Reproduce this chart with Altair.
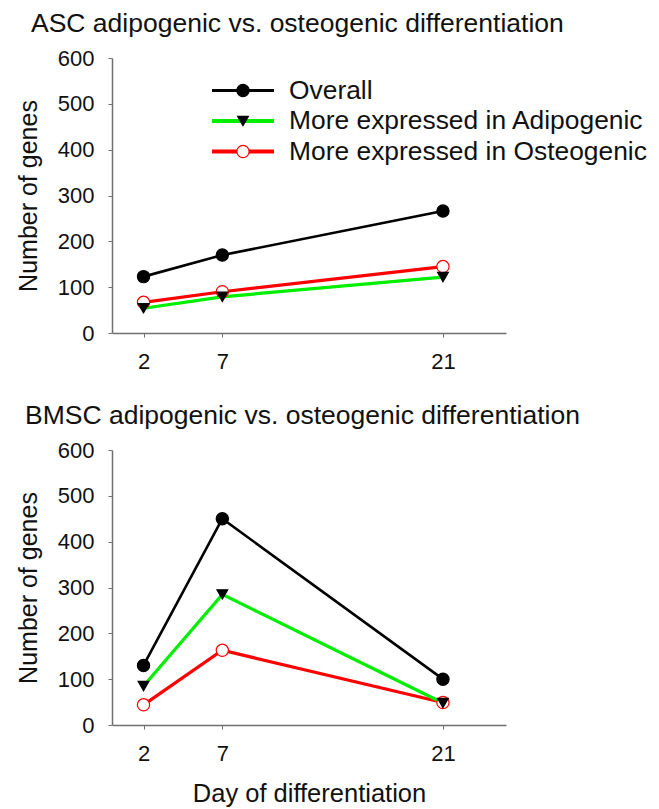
import altair as alt
import pandas as pd

days = [2, 7, 21]
series = ["Overall", "More expressed in Adipogenic", "More expressed in Osteogenic"]

asc_overall = [123, 170, 266]
asc_adipo = [54, 79, 122]
asc_osteo = [67, 90, 145]

bmsc_overall = [130, 450, 100]
bmsc_adipo = [85, 285, 48]
bmsc_osteo = [44, 163, 49]

titles = ["ASC adipogenic vs. osteogenic differentiation",
          "BMSC adipogenic vs. osteogenic differentiation"]
y_title = "Number of genes"
x_title = "Day of differentiation"
y_ticks = [0, 100, 200, 300, 400, 500, 600]

FONT = "Liberation Sans"

line_colors = {series[0]: "#000000", series[1]: "#00ee00", series[2]: "#ff0000"}
line_widths = {series[0]: 2.6, series[1]: 3.2, series[2]: 3.2}
pt_shape = {series[0]: "circle", series[1]: "triangle-down", series[2]: "circle"}
pt_fill = {series[0]: "#000000", series[1]: "#000000", series[2]: "#ffffff"}
pt_stroke = {series[0]: "#000000", series[1]: "#000000", series[2]: "#ff0000"}
pt_size = {series[0]: 150, series[1]: 115, series[2]: 150}


def make_df(vals):
    rows = []
    for s, v in zip(series, vals):
        for d, y in zip(days, v):
            rows.append({"series": s, "day": d, "value": y})
    return pd.DataFrame(rows)


draw_order = [series[0], series[2], series[1]]


def panel(df, title, title_dx, show_xtitle, with_legend):
    x = alt.X("day:Q", scale=alt.Scale(domain=[0, 25], nice=False),
              axis=alt.Axis(values=days, title=x_title if show_xtitle else None,
                            titlePadding=17, labelPadding=14, titleFontSize=25.5))
    y = alt.Y("value:Q", scale=alt.Scale(domain=[0, 600], nice=False),
              axis=alt.Axis(values=y_ticks, title=y_title, titlePadding=16, labelPadding=14))
    layers = []
    for s in draw_order:
        sub = df[df.series == s]
        layers.append(alt.Chart(sub).mark_line(color=line_colors[s], strokeWidth=line_widths[s])
                      .encode(x=x, y=y))
    for s in draw_order:
        sub = df[df.series == s]
        layers.append(alt.Chart(sub).mark_point(shape=pt_shape[s], filled=True, fill=pt_fill[s],
                                                stroke=pt_stroke[s], strokeWidth=1.2,
                                                size=pt_size[s], opacity=1)
                      .encode(x=x, y=y))
    ch = alt.layer(*layers)
    if with_legend:
        leg = pd.DataFrame({"series": series, "row": list(range(len(series)))})
        ly = alt.Y("row:Q", scale=alt.Scale(domain=[0, 2], range=[32.5, 93.5]), axis=None)
        leg_layers = []
        for s in series:
            sub = leg[leg.series == s]
            leg_layers.append(alt.Chart(sub).mark_rule(color=line_colors[s], strokeWidth=line_widths[s] + 0.6)
                              .encode(x=alt.value(100), x2=alt.value(162), y=ly))
        for s in series:
            sub = leg[leg.series == s]
            leg_layers.append(alt.Chart(sub).mark_point(shape=pt_shape[s], filled=True, fill=pt_fill[s],
                                                        stroke=pt_stroke[s], strokeWidth=1.2,
                                                        size=pt_size[s], opacity=1)
                              .encode(x=alt.value(131), y=ly))
        leg_layers.append(alt.Chart(leg).mark_text(align="left", baseline="middle", font=FONT,
                                                   fontSize=26.4, color="#111111")
                          .encode(x=alt.value(177), y=ly, text="series:N"))
        ch = alt.layer(ch, alt.layer(*leg_layers)).resolve_scale(y="independent")
    return ch.properties(
        width=394, height=275,
        title=alt.TitleParams(title, anchor="start", frame="group", dx=title_dx, fontSize=26.5,
                              font=FONT, fontWeight="normal", color="#111111", offset=10),
    )


top = panel(make_df([asc_overall, asc_adipo, asc_osteo]), titles[0], -81, False, True)
bottom = panel(make_df([bmsc_overall, bmsc_adipo, bmsc_osteo]), titles[1], -87, True, False)

chart = alt.vconcat(top, bottom, spacing=30).properties(
    padding={"left": 8, "top": 2, "right": 0, "bottom": 0}
).configure_view(
    stroke=None
).configure_axis(
    grid=False, domainColor="#707070", tickColor="#707070", tickSize=4, domainWidth=1.5,
    labelFont=FONT, labelFontSize=22, labelColor="#111111",
    titleFont=FONT, titleFontSize=25, titleFontWeight="normal", titleColor="#111111",
)

chart.save("out.html", embed_options={"renderer": "svg", "actions": False})
